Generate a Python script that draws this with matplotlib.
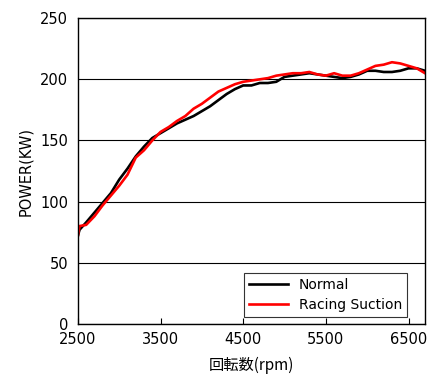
import matplotlib.pyplot as plt
import numpy as np

plt.rcParams['font.family'] = ['DejaVu Sans', 'Noto Sans CJK JP']

# Normal
rpm_n = [2500, 2520, 2600, 2700, 2800, 2900, 3000, 3100, 3200, 3300, 3400, 3500,
         3600, 3700, 3800, 3900, 4000, 4100, 4200, 4300, 4400, 4500, 4600, 4700,
         4800, 4900, 5000, 5100, 5200, 5300, 5400, 5500, 5600, 5700, 5800, 5900,
         6000, 6100, 6200, 6300, 6400, 6500, 6600, 6700]
pow_n = [72, 77, 83, 91, 99, 107, 118, 127, 137, 145, 152, 156,
         160, 164, 167, 170, 174, 178, 183, 188, 192, 195, 195, 197,
         197, 198, 202, 203, 204, 205, 204, 203, 202, 201, 202, 204,
         207, 207, 206, 206, 207, 209, 209, 207]

# Racing Suction
rpm_r = [2500, 2520, 2600, 2700, 2800, 2900, 3000, 3100, 3200, 3300, 3400, 3500,
         3600, 3700, 3800, 3900, 4000, 4100, 4200, 4300, 4400, 4500, 4600, 4700,
         4800, 4900, 5000, 5100, 5200, 5300, 5400, 5500, 5600, 5700, 5800, 5900,
         6000, 6100, 6200, 6300, 6400, 6500, 6600, 6700]
pow_r = [72, 80, 81, 88, 97, 105, 113, 122, 136, 142, 150, 157,
         161, 166, 170, 176, 180, 185, 190, 193, 196, 198, 199, 200,
         201, 203, 204, 205, 205, 206, 204, 203, 205, 203, 203, 205,
         208, 211, 212, 214, 213, 211, 209, 205]

xticks = [2500, 3500, 4500, 5500, 6500]
yticks = [0, 50, 100, 150, 200, 250]

fig = plt.figure(figsize=(4.4, 3.87), dpi=100)
ax = fig.add_axes([0.177, 0.163, 0.789, 0.790])

ax.yaxis.grid(True, color='black', lw=0.8)
ax.set_axisbelow(True)
ax.plot(rpm_n, pow_n, color='black', lw=1.9, label='Normal')
ax.plot(rpm_r, pow_r, color='#ff0000', lw=1.9, label='Racing Suction')

ax.set_xlim(2500, 6700)
ax.set_ylim(0, 250)
ax.set_xticks(xticks)
ax.set_yticks(yticks)
ax.tick_params(axis='x', direction='in', length=4, labelsize=10.5, pad=6)
ax.tick_params(axis='y', length=0, labelsize=10.5, pad=7)
for s in ax.spines.values():
    s.set_color('black')
    s.set_linewidth(1)

ax.set_xlabel('回転数(rpm)', fontsize=11, family=['Noto Sans CJK JP', 'DejaVu Sans'], labelpad=7)
ax.set_ylabel('POWER(KW)', fontsize=10.5, labelpad=5)

leg = ax.legend(loc='lower right', bbox_to_anchor=(0.948, 0.023), fontsize=10,
                fancybox=False, edgecolor='#333333', framealpha=1,
                handlelength=2.8, borderpad=0.35, labelspacing=0.45,
                borderaxespad=0)
leg.get_frame().set_linewidth(0.8)

fig.savefig('out.png', dpi=100)
